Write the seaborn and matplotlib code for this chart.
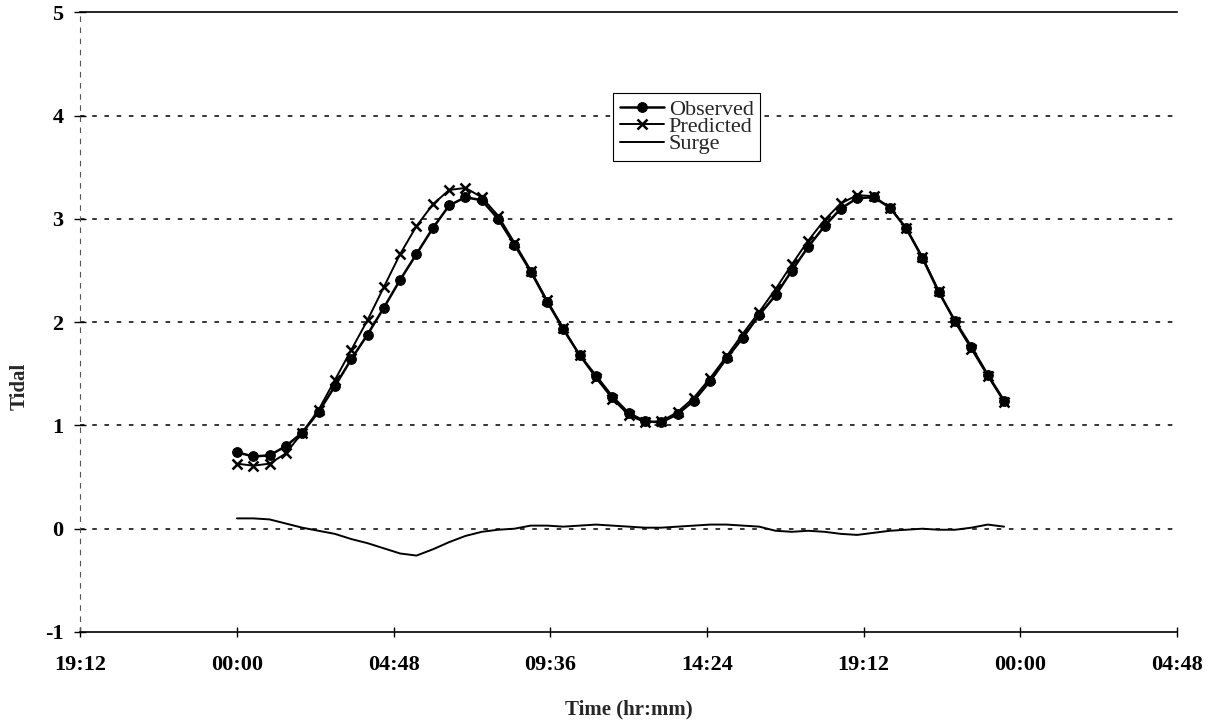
import numpy as np
import pandas as pd
import matplotlib
matplotlib.use("Agg")
import matplotlib.pyplot as plt
import seaborn as sns

# ---- data (hours from 00:00, 30-minute steps) ----
hours = [i * 0.5 for i in range(48)]

observed = [0.74, 0.70, 0.71, 0.80, 0.93, 1.13, 1.38, 1.64, 1.88, 2.14,
            2.41, 2.66, 2.91, 3.13, 3.21, 3.18, 3.00, 2.75, 2.49, 2.20,
            1.93, 1.68, 1.48, 1.28, 1.12, 1.04, 1.03, 1.11, 1.24, 1.43,
            1.65, 1.85, 2.07, 2.26, 2.50, 2.73, 2.93, 3.10, 3.20, 3.21,
            3.11, 2.91, 2.62, 2.29, 2.01, 1.76, 1.49, 1.24]

predicted = [0.63, 0.61, 0.63, 0.73, 0.93, 1.15, 1.44, 1.73, 2.02, 2.34,
             2.66, 2.93, 3.14, 3.28, 3.30, 3.21, 3.03, 2.77, 2.50, 2.21,
             1.94, 1.68, 1.46, 1.26, 1.10, 1.03, 1.04, 1.13, 1.27, 1.46,
             1.67, 1.89, 2.10, 2.32, 2.56, 2.79, 2.99, 3.15, 3.23, 3.22,
             3.11, 2.91, 2.63, 2.30, 2.00, 1.74, 1.48, 1.23]

surge = [0.10, 0.10, 0.09, 0.05, 0.01, -0.02, -0.05, -0.10, -0.14, -0.19,
         -0.24, -0.26, -0.20, -0.13, -0.07, -0.03, -0.01, 0.00, 0.03, 0.03,
         0.02, 0.03, 0.04, 0.03, 0.02, 0.01, 0.01, 0.02, 0.03, 0.04,
         0.04, 0.03, 0.02, -0.02, -0.03, -0.02, -0.03, -0.05, -0.06, -0.04,
         -0.02, -0.01, 0.00, -0.01, -0.01, 0.01, 0.04, 0.02]

xtick_pos = [-4.8, 0.0, 4.8, 9.6, 14.4, 19.2, 24.0, 28.8]
xtick_labels = ["19:12", "00:00", "04:48", "09:36", "14:24", "19:12", "00:00", "04:48"]
ytick_pos = [-1, 0, 1, 2, 3, 4, 5]

df = pd.DataFrame({"hours": hours, "Observed": observed,
                   "Predicted": predicted, "Surge": surge})

sns.set_theme(style="white")
plt.rcParams["font.family"] = ["Liberation Serif", "DejaVu Serif"]

fig = plt.figure(figsize=(12.16, 7.26), dpi=100)
ax = fig.add_axes([0.066, 0.1295, 0.902, 0.8535])

# horizontal dashed grid lines
for yv in [0, 1, 2, 3, 4]:
    ax.axhline(yv, color="black", lw=1.1, ls=(0, (3, 5)), zorder=1)

sns.lineplot(data=df, x="hours", y="Observed", ax=ax, color="black",
             lw=1.8, marker="o", markersize=7, markeredgecolor="black",
             label="Observed", zorder=4)
sns.lineplot(data=df, x="hours", y="Predicted", ax=ax, color="black",
             lw=1.4, marker="x", markersize=6.5, markeredgewidth=1.8,
             markeredgecolor="black", label="Predicted", zorder=3)
sns.lineplot(data=df, x="hours", y="Surge", ax=ax, color="black",
             lw=1.4, label="Surge", zorder=3)

ax.set_xlim(-4.8, 28.8)
ax.set_ylim(-1, 5)
ax.set_xticks(xtick_pos)
ax.set_xticklabels(xtick_labels)
ax.set_yticks(ytick_pos)
ax.set_yticklabels([str(v) for v in ytick_pos])

for lab in ax.get_xticklabels() + ax.get_yticklabels():
    lab.set_fontweight("bold")
    lab.set_fontsize(16)

ax.tick_params(axis="x", direction="inout", length=7, width=1, pad=13,
               bottom=True, colors="black")
ax.tick_params(axis="y", direction="inout", length=8, width=1, pad=8,
               left=True, colors="black")

ax.set_xlabel("Time (hr:mm)", fontsize=15, fontweight="bold", labelpad=18)
ax.set_ylabel("Tidal", fontsize=15, fontweight="bold")
ax.yaxis.set_label_coords(-0.046, 0.397)

ax.spines["right"].set_visible(False)
ax.spines["top"].set_color("black")
ax.spines["top"].set_linewidth(1.2)
ax.spines["bottom"].set_color("black")
ax.spines["bottom"].set_linewidth(1.2)
ax.spines["left"].set_color("#555555")
ax.spines["left"].set_linewidth(0.8)
ax.spines["left"].set_linestyle((0, (4, 6)))

leg = ax.legend(loc="center", bbox_to_anchor=(0.553, 0.815), frameon=True,
                fontsize=16, handlelength=2.0, handletextpad=0.2,
                borderpad=0.3, labelspacing=-0.15, fancybox=False,
                borderaxespad=0)
leg.get_frame().set_edgecolor("black")
leg.get_frame().set_linewidth(0.8)
leg.get_frame().set_facecolor("white")
leg.get_frame().set_alpha(1)

fig.savefig("out.png", dpi=100)
